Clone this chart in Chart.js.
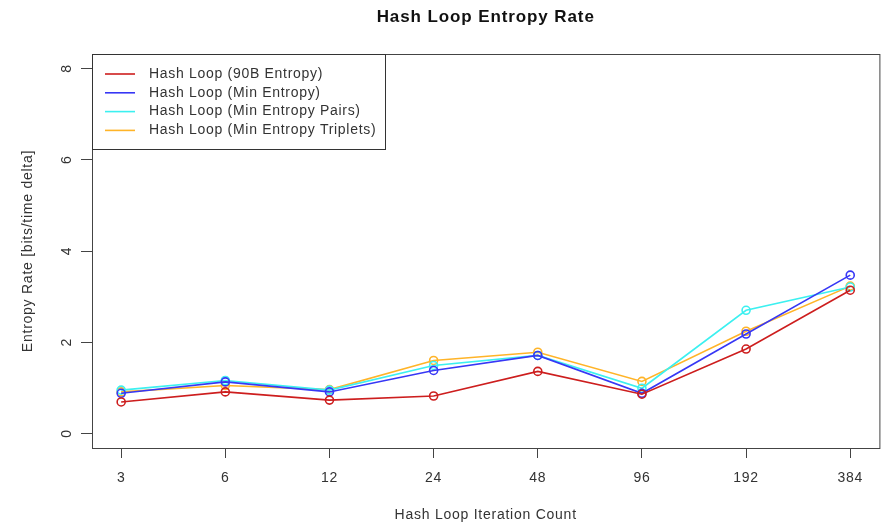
<!DOCTYPE html>
<html>
<head>
<meta charset="utf-8">
<script src="https://cdn.jsdelivr.net/npm/chart.js@4"></script>
<style>
  html, body { margin: 0; padding: 0; background: #fff; }
</style>
</head>
<body>
<canvas id="chart" width="885" height="522"></canvas>
<script>
// values
const iterations = ['3', '6', '12', '24', '48', '96', '192', '384'];
const yTicks = [0, 2, 4, 6, 8];
const rate90B = [0.69, 0.91, 0.73, 0.82, 1.36, 0.86, 1.85, 3.14];
const rateMin = [0.88, 1.13, 0.91, 1.38, 1.71, 0.88, 2.18, 3.47];
const rateMinPairs = [0.95, 1.16, 0.95, 1.49, 1.71, 0.99, 2.70, 3.21];
const rateMinTriplets = [0.91, 1.05, 0.96, 1.60, 1.78, 1.14, 2.24, 3.23];
const seriesNames = [
    'Hash Loop (90B Entropy)',
    'Hash Loop (Min Entropy)',
    'Hash Loop (Min Entropy Pairs)',
    'Hash Loop (Min Entropy Triplets)'
];
const seriesColors = ['rgb(205, 30, 30)', 'rgb(55, 55, 245)', 'rgb(60, 240, 240)', 'rgb(255, 180, 40)'];
const chartTitle = 'Hash Loop Entropy Rate';

const FONT = 'Liberation Sans, Arial, sans-serif';
const INK = '#333';

const toPoints = (vals) => vals.map((v, i) => ({ x: i + 1, y: v }));

const makeSet = (label, vals, color) => ({
    label,
    data: toPoints(vals),
    borderColor: color,
    backgroundColor: color,
    borderWidth: 1.6,
    pointRadius: 4,
    pointBorderWidth: 1.6,
    pointBackgroundColor: 'rgba(0,0,0,0)',
    pointBorderColor: color,
    tension: 0,
    fill: false,
});

// frame box, title over the plot region, rotated y labels and the R style legend
const rStyle = {
    id: 'rStyle',
    beforeDraw(chart) {
        chart.ctx.letterSpacing = '0.75px';
    },
    afterDraw(chart) {
        const ctx = chart.ctx;
        const a = chart.chartArea;
        const y = chart.scales.y;
        ctx.save();
        ctx.strokeStyle = '#444';
        ctx.lineWidth = 1;
        ctx.strokeRect(a.left + 0.5, a.top + 0.5, a.right - a.left, a.bottom - a.top);

        // title, centred on the plot like R does
        ctx.fillStyle = '#111';
        ctx.font = 'bold 17px ' + FONT;
        ctx.letterSpacing = '0.9px';
        ctx.textAlign = 'center';
        ctx.textBaseline = 'middle';
        ctx.fillText(chartTitle, (a.left + a.right) / 2, 17);

        // y tick labels, parallel to the axis
        ctx.fillStyle = INK;
        ctx.font = '14px ' + FONT;
        ctx.letterSpacing = '0.75px';
        y.ticks.forEach(t => {
            const py = y.getPixelForValue(t.value);
            ctx.save();
            ctx.translate(67, py);
            ctx.rotate(-Math.PI / 2);
            ctx.fillText(String(t.value), 0, 0);
            ctx.restore();
        });

        // legend
        ctx.fillStyle = '#fff';
        ctx.fillRect(a.left + 0.5, a.top + 0.5, 293, 95);
        ctx.strokeStyle = '#333';
        ctx.strokeRect(a.left + 0.5, a.top + 0.5, 293, 95);
        ctx.letterSpacing = '0.7px';
        ctx.textAlign = 'left';
        chart.data.datasets.forEach((ds, i) => {
            const ly = a.top + 20 + i * 18.8;
            ctx.strokeStyle = ds.borderColor;
            ctx.lineWidth = 1.6;
            ctx.beginPath();
            ctx.moveTo(a.left + 13, ly);
            ctx.lineTo(a.left + 43, ly);
            ctx.stroke();
            ctx.fillStyle = INK;
            ctx.fillText(ds.label, a.left + 57, ly);
        });
        ctx.restore();
    }
};

new Chart(document.getElementById('chart'), {
    type: 'line',
    data: {
        datasets: [
            makeSet(seriesNames[0], rate90B, seriesColors[0]),
            makeSet(seriesNames[1], rateMin, seriesColors[1]),
            makeSet(seriesNames[2], rateMinPairs, seriesColors[2]),
            makeSet(seriesNames[3], rateMinTriplets, seriesColors[3]),
        ]
    },
    options: {
        responsive: false,
        animation: false,
        devicePixelRatio: 1,
        layout: { padding: { left: 0, right: 3, top: 54, bottom: 0 } },
        plugins: {
            legend: { display: false },
            tooltip: { enabled: false },
            title: { display: false }
        },
        scales: {
            x: {
                type: 'linear',
                min: 0.72,
                max: 8.28,
                afterBuildTicks: (s) => { s.ticks = iterations.map((c, i) => ({ value: i + 1 })); },
                afterFit: (s) => { s.height = 74; },
                ticks: {
                    autoSkip: false,
                    maxRotation: 0,
                    padding: 12,
                    color: INK,
                    font: { family: FONT, size: 14 },
                    callback: (v) => iterations[v - 1]
                },
                grid: { drawOnChartArea: false, drawTicks: true, tickLength: 10, color: '#444' },
                border: { display: false },
                title: {
                    display: true,
                    text: 'Hash Loop Iteration Count',
                    color: INK,
                    font: { family: FONT, size: 14, lineHeight: 1.0 },
                    padding: { top: 0, bottom: 0 }
                }
            },
            y: {
                min: -0.32,
                max: 8.32,
                afterBuildTicks: (s) => { s.ticks = yTicks.map(v => ({ value: v })); },
                afterFit: (s) => { s.width = 92; },
                ticks: { display: false },
                grid: { drawOnChartArea: false, drawTicks: true, tickLength: 11, color: '#444' },
                border: { display: false },
                title: {
                    display: true,
                    text: 'Entropy Rate [bits/time delta]',
                    color: INK,
                    font: { family: FONT, size: 14 },
                    padding: { top: 20, bottom: 0 }
                }
            }
        }
    },
    plugins: [rStyle]
});
</script>
</body>
</html>
